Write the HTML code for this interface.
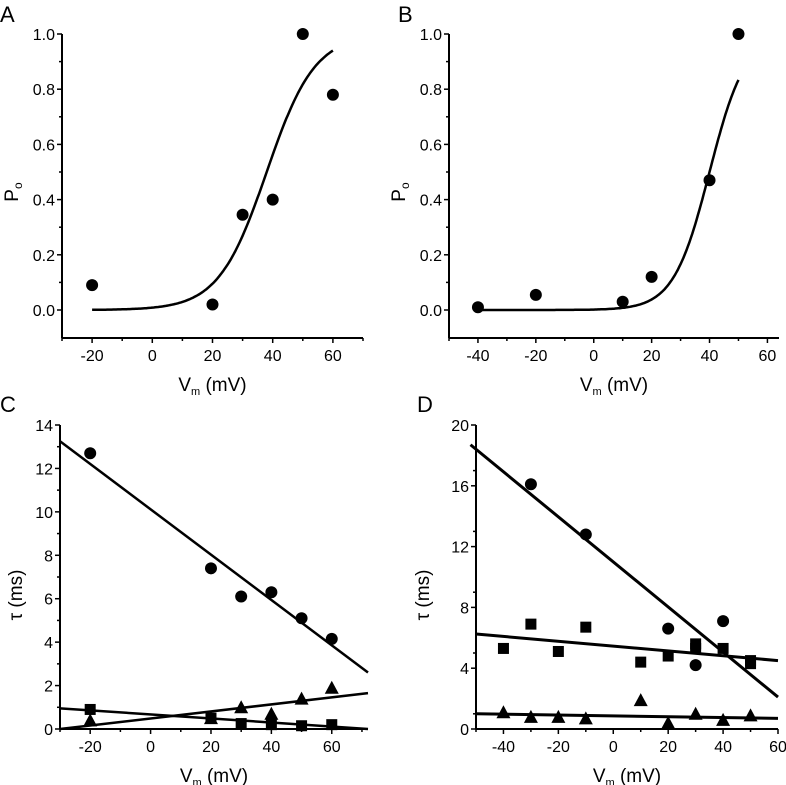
<!DOCTYPE html>
<html><head><meta charset="utf-8"><style>
html,body{margin:0;padding:0;background:#fff;}
svg{display:block;font-family:"Liberation Sans",sans-serif;}
</style></head><body>
<svg id="fig" width="786" height="785" viewBox="0 0 786 785"></svg>
<script>
// ---- Data ----
const aV = [-20, 20, 30, 40, 50, 60];
const aPo = [0.09, 0.02, 0.345, 0.40, 1.0, 0.78];
const aFit = [38, 8]; // V1/2, k
const bV = [-40, -20, 10, 20, 40, 50];
const bPo = [0.01, 0.055, 0.03, 0.12, 0.47, 1.0];
const bFit = [40, 6.2];
const cV = [-20, 20, 30, 40, 50, 60];
const cCirc = [12.7, 7.4, 6.1, 6.3, 5.1, 4.15];
const cTri = [0.4, 0.5, 1.0, 0.7, 1.4, 1.9];
const cSq = [0.9, 0.5, 0.25, 0.2, 0.15, 0.2];
const cCircLine = [[-30, 13.25], [72, 2.6]];
const cTriLine = [[-30, 0], [72, 1.65]];
const cSqLine = [[-30, 0.95], [72, 0]];
const dCircV = [-30, -10, 20, 30, 40];
const dCirc = [16.1, 12.8, 6.6, 4.2, 7.1];
const dSqV = [-40, -30, -20, -10, 10, 20, 30, 30, 40, 50, 50];
const dSq = [5.3, 6.9, 5.1, 6.7, 4.4, 4.8, 5.6, 5.3, 5.3, 4.3, 4.5];
const dTriV = [-40, -30, -20, -10, 10, 20, 30, 40, 50];
const dTri = [1.1, 0.8, 0.8, 0.7, 1.9, 0.4, 1.0, 0.6, 0.9];
const dCircLine = [[-52, 18.7], [60, 2.1]];
const dSqLine = [[-50, 6.25], [60, 4.5]];
const dTriLine = [[-50, 1.0], [60, 0.7]];
const aXTicks = [-20, 0, 20, 40, 60];
const bXTicks = [-40, -20, 0, 20, 40, 60];
const dXTicks = [-40, -20, 0, 20, 40, 60];
const poTicks = [0.0, 0.2, 0.4, 0.6, 0.8, 1.0];
const cYTicks = [0, 2, 4, 6, 8, 10, 12, 14];
const dYTicks = [0, 4, 8, 12, 16, 20];

const NS = "http://www.w3.org/2000/svg";
const svg = document.getElementById('fig');
function el(tag, attrs, parent, text) {
  const e = document.createElementNS(NS, tag);
  for (const k in attrs) e.setAttribute(k, attrs[k]);
  if (text !== undefined) e.textContent = text;
  (parent || svg).appendChild(e);
  return e;
}
function makeAxes(p) {
  const x = v => p.x0 + (v - p.xmin) * (p.x1 - p.x0) / (p.xmax - p.xmin);
  const y = v => p.y0 - (v - p.ymin) * (p.y0 - p.y1) / (p.ymax - p.ymin);
  const g = el('g', {});
  
  
  const lt = el('text', {x: p.lx, y: p.ly, 'font-size': 22}, g, p.letter);
  
  
  const ya = el('line', {x1: p.x0, y1: p.yTop, x2: p.x0, y2: p.xAxisY, stroke: '#000', 'stroke-width': 2}, g);
  
  
  const xa = el('line', {x1: p.x0, y1: p.xAxisY, x2: p.x1, y2: p.xAxisY, stroke: '#000', 'stroke-width': 2}, g);
  
  
  p.xt.forEach((t, i) => {
    el('line', {x1: x(t), y1: p.xAxisY, x2: x(t), y2: p.xAxisY + 5, stroke: '#000', 'stroke-width': 1.5}, g);
    const m = t + p.xstep / 2;
    if (x(m) <= p.x1 + 0.5) el('line', {x1: x(m), y1: p.xAxisY, x2: x(m), y2: p.xAxisY + 3, stroke: '#000', 'stroke-width': 1.5}, g);
    const lbl = el('text', {x: x(t), y: p.xAxisY + 23, 'font-size': 16, 'text-anchor': 'middle'}, g, String(t));
    
    
  });
  { const m = p.xt[0] - p.xstep / 2; if (m >= p.xmin) el('line', {x1: x(m), y1: p.xAxisY, x2: x(m), y2: p.xAxisY + 3, stroke: '#000', 'stroke-width': 1.5}, g); }
  p.yt.forEach((t, i) => {
    el('line', {x1: p.x0 - 5, y1: y(t), x2: p.x0, y2: y(t), stroke: '#000', 'stroke-width': 1.5}, g);
    if (i < p.yt.length - 1) { const m = t + p.ystep / 2; el('line', {x1: p.x0 - 3, y1: y(m), x2: p.x0, y2: y(m), stroke: '#000', 'stroke-width': 1.5}, g); }
    const lbl = el('text', {x: p.x0 - 7, y: y(t) + 6, 'font-size': 16, 'text-anchor': 'end'}, g, p.yfmt(t));
    
    
  });
  const xt = el('text', {x: (p.x0 + p.x1) / 2, y: p.xAxisY + 53, 'font-size': 19, 'text-anchor': 'middle'}, g);
  
  
  el('tspan', {}, xt, 'V');
  el('tspan', {'font-size': 11, dy: 4}, xt, 'm');
  el('tspan', {dy: -4}, xt, ' (mV)');
  const yt = el('text', {x: 0, y: 0, 'font-size': 19, 'text-anchor': 'middle', transform: `translate(${p.ytx},${(p.y0 + p.yTop) / 2 + p.ytdy}) rotate(-90)`}, g);
  
  
  if (p.po) { el('tspan', {}, yt, 'P'); el('tspan', {'font-size': 12, dy: 4}, yt, 'o'); }
  else yt.textContent = 'τ (ms)';
  return {x, y, g};
}
function circles(ax, xs, ys, name) {
  xs.forEach((v, i) => {
    const c = el('circle', {cx: ax.x(v), cy: ax.y(ys[i]), r: 6, fill: '#000'}, ax.g);
    
    
  });
}
function squares(ax, xs, ys, name) {
  xs.forEach((v, i) => {
    const r = el('rect', {x: ax.x(v) - 5.5, y: ax.y(ys[i]) - 5.5, width: 11, height: 11, fill: '#000'}, ax.g);
    
    
  });
}
function tris(ax, xs, ys, name) {
  xs.forEach((v, i) => {
    const cx = ax.x(v), cy = ax.y(ys[i]);
    const t = el('polygon', {points: `${cx},${cy - 7} ${cx - 7},${cy + 6} ${cx + 7},${cy + 6}`, fill: '#000'}, ax.g);
    
    
  });
}
function line(ax, pts, name, w) {
  const l = el('line', {x1: ax.x(pts[0][0]), y1: ax.y(pts[0][1]), x2: ax.x(pts[1][0]), y2: ax.y(pts[1][1]), stroke: '#000', 'stroke-width': w || 2.5}, ax.g);
  
  
}
function boltz(ax, fit, from, to, name) {
  let d = '';
  for (let v = from; v <= to + 1e-9; v += 0.5) {
    const p = 1 / (1 + Math.exp(-(v - fit[0]) / fit[1]));
    d += (d ? 'L' : 'M') + ax.x(v).toFixed(1) + ',' + ax.y(p).toFixed(1);
  }
  const path = el('path', {d, fill: 'none', stroke: '#000', 'stroke-width': 2.5}, ax.g);
  
  
}
const fmt1 = t => t.toFixed(1), fmt0 = t => String(t);

// Panel A
const A = makeAxes({name: 'panel-a', letter: 'A', lx: 0, ly: 22, x0: 62, x1: 363, xmin: -30, xmax: 70, y0: 310, y1: 34, ymin: 0, ymax: 1, yTop: 34, xAxisY: 338, xt: aXTicks, xstep: 20, yt: poTicks, ystep: 0.2, yfmt: fmt1, ytx: 18, ytdy: 20, po: true});
boltz(A, aFit, -20, 60, 'fit-curve');
circles(A, aV, aPo, 'data-point');
// Panel B
const B = makeAxes({name: 'panel-b', letter: 'B', lx: 398, ly: 22, x0: 449, x1: 779, xmin: -50, xmax: 64, y0: 310, y1: 34, ymin: 0, ymax: 1, yTop: 34, xAxisY: 338, xt: bXTicks, xstep: 20, yt: poTicks, ystep: 0.2, yfmt: fmt1, ytx: 405, ytdy: 20, po: true});
boltz(B, bFit, -40, 50, 'fit-curve');
circles(B, bV, bPo, 'data-point');
// Panel C
const C = makeAxes({name: 'panel-c', letter: 'C', lx: 0, ly: 412, x0: 60, x1: 368, xmin: -30, xmax: 72, y0: 729, y1: 425, ymin: 0, ymax: 14, yTop: 425, xAxisY: 729, xt: aXTicks, xstep: 20, yt: cYTicks, ystep: 2, yfmt: fmt0, ytx: 22, ytdy: 18, po: false});
line(C, cCircLine, 'fit-line-circle');
line(C, cTriLine, 'fit-line-triangle');
line(C, cSqLine, 'fit-line-square');
circles(C, cV, cCirc, 'circle-point');
tris(C, cV, cTri, 'triangle-point');
squares(C, cV, cSq, 'square-point');
// Panel D
const D = makeAxes({name: 'panel-d', letter: 'D', lx: 417, ly: 412, x0: 476, x1: 778, xmin: -50, xmax: 60, y0: 729, y1: 425, ymin: 0, ymax: 20, yTop: 425, xAxisY: 729, xt: dXTicks, xstep: 20, yt: dYTicks, ystep: 2, yfmt: fmt0, ytx: 429, ytdy: 18, po: false});
line(D, dCircLine, 'fit-line-circle', 3);
line(D, dSqLine, 'fit-line-square', 3);
line(D, dTriLine, 'fit-line-triangle', 3);
circles(D, dCircV, dCirc, 'circle-point');
squares(D, dSqV, dSq, 'square-point');
tris(D, dTriV, dTri, 'triangle-point');
</script>
</body></html>
